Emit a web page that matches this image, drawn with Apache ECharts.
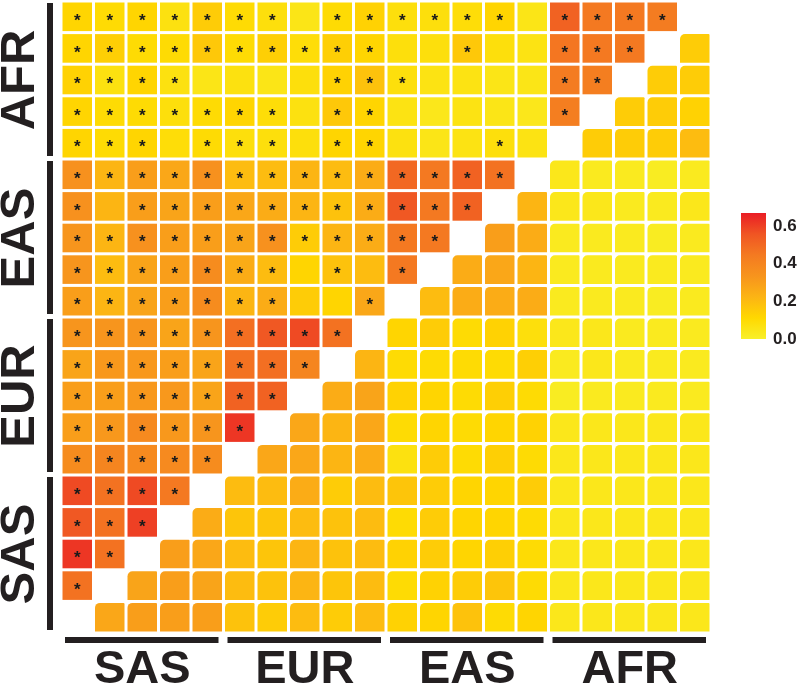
<!DOCTYPE html>
<html>
<head>
<meta charset="utf-8">
<style>html,body{margin:0;padding:0;background:#fff}#c{width:800px;height:691px}</style>
<script src="https://cdn.jsdelivr.net/npm/echarts@6/dist/echarts.min.js"></script>
</head>
<body>
<div id="c"></div>
<script>
// ---- data ----
const groups = ['SAS', 'EUR', 'EAS', 'AFR'];            // bottom->top and left->right
const cellLabels = ['SAS1','SAS2','SAS3','SAS4','SAS5','EUR1','EUR2','EUR3','EUR4','EUR5',
                    'EAS1','EAS2','EAS3','EAS4','EAS5','AFR1','AFR2','AFR3','AFR4','AFR5'];
const legendTicks = [0, 0.2, 0.4, 0.6];
const legendMax = 0.67;
// value rows, top row of the picture first; null = diagonal
const valueRows = [
 [0.12,0.10,0.12,0.07,0.15,0.10,0.08,0.05,0.10,0.13, 0.08,0.08,0.09,0.12,0.05, 0.52,0.45,0.45,0.44,null],
 [0.12,0.14,0.10,0.10,0.16,0.10,0.14,0.09,0.14,0.12, 0.08,0.08,0.16,0.08,0.06, 0.46,0.45,0.45,null,0.15],
 [0.13,0.07,0.12,0.07,0.05,0.07,0.05,0.08,0.13,0.18, 0.08,0.06,0.06,0.05,0.05, 0.44,0.43,null,0.15,0.15],
 [0.12,0.10,0.10,0.08,0.10,0.12,0.09,0.07,0.16,0.12, 0.06,0.04,0.06,0.05,0.04, 0.43,null,0.15,0.15,0.13],
 [0.12,0.10,0.12,0.09,0.10,0.08,0.08,0.08,0.12,0.12, 0.07,0.05,0.06,0.08,0.06, null,0.15,0.15,0.15,0.20],
 [0.35,0.22,0.30,0.27,0.35,0.20,0.20,0.22,0.20,0.25, 0.50,0.45,0.52,0.47,null, 0.04,0.03,0.03,0.02,0.03],
 [0.35,0.22,0.30,0.28,0.30,0.27,0.25,0.22,0.18,0.25, 0.55,0.45,0.52,null,0.22, 0.04,0.04,0.03,0.03,0.04],
 [0.33,0.22,0.35,0.30,0.30,0.28,0.35,0.15,0.22,0.25, 0.45,0.45,null,0.30,0.25, 0.03,0.03,0.03,0.02,0.03],
 [0.33,0.20,0.28,0.30,0.37,0.25,0.20,0.12,0.18,0.20, 0.45,null,0.25,0.27,0.22, 0.03,0.03,0.03,0.03,0.03],
 [0.30,0.22,0.28,0.30,0.37,0.22,0.25,0.15,0.12,0.27, null,0.20,0.25,0.25,0.25, 0.03,0.03,0.03,0.02,0.03],
 [0.33,0.33,0.33,0.28,0.33,0.48,0.55,0.58,0.47,null, 0.12,0.15,0.10,0.13,0.08, 0.04,0.04,0.03,0.03,0.03],
 [0.28,0.32,0.32,0.30,0.28,0.47,0.48,0.40,null,0.22, 0.10,0.10,0.10,0.10,0.14, 0.03,0.04,0.03,0.03,0.03],
 [0.30,0.30,0.32,0.32,0.28,0.52,0.52,null,0.25,0.28, 0.13,0.12,0.10,0.14,0.10, 0.02,0.03,0.03,0.03,0.03],
 [0.30,0.32,0.38,0.32,0.33,0.62,null,0.27,0.22,0.27, 0.10,0.12,0.10,0.12,0.13, 0.04,0.04,0.04,0.04,0.04],
 [0.37,0.40,0.38,0.38,0.37,null,0.27,0.27,0.22,0.25, 0.07,0.15,0.10,0.14,0.10, 0.04,0.04,0.04,0.04,0.04],
 [0.58,0.47,0.58,0.45,null,0.20,0.20,0.25,0.15,0.20, 0.17,0.15,0.12,0.12,0.15, 0.04,0.04,0.04,0.04,0.04],
 [0.55,0.47,0.60,null,0.25,0.17,0.17,0.20,0.18,0.20, 0.10,0.15,0.12,0.12,0.10, 0.04,0.04,0.04,0.04,0.04],
 [0.62,0.47,null,0.30,0.27,0.20,0.17,0.22,0.18,0.20, 0.13,0.15,0.12,0.14,0.10, 0.04,0.04,0.04,0.04,0.04],
 [0.47,null,0.28,0.30,0.28,0.20,0.18,0.22,0.17,0.20, 0.10,0.13,0.15,0.17,0.10, 0.04,0.04,0.04,0.04,0.04],
 [null,0.27,0.30,0.30,0.30,0.18,0.15,0.20,0.15,0.20, 0.13,0.12,0.18,0.10,0.12, 0.04,0.04,0.04,0.04,0.04]
];
// significance rows (1 = asterisk), same order as valueRows
const sigRows = [
 '1111111011111101111-',
 '111111111100100111-0',
 '11110000111000011-00',
 '1111111011000001-000',
 '111011101100010-0000',
 '11111111111111-00000',
 '1011111111111-000000',
 '111111111111-0000000',
 '11111110101-00000000',
 '1111111001-000000000',
 '111111111-0000000000',
 '11111111-00000000000',
 '1111111-000000000000',
 '111111-0000000000000',
 '11111-00000000000000',
 '1111-000000000000000',
 '111-0000000000000000',
 '11-00000000000000000',
 '1-000000000000000000',
 '-0000000000000000000'
];
const colorStops = ['#f8f02a','#ffd800','#fcb414','#f7941d','#f47a21','#f05523','#ea1d25'];

// ---- build ----
const N = cellLabels.length;
const cells = [];
valueRows.forEach((row, r) => {
  const yi = N - 1 - r;
  row.forEach((v, c) => {
    if (v === null) return;
    cells.push([c, yi, v, sigRows[r][c] === '1' ? 1 : 0, c > yi ? 1 : 0]);
  });
});
const FONT = "'Liberation Sans', Arial, Helvetica, sans-serif";
const chart = echarts.init(document.getElementById('c'), null, {renderer: 'canvas'});
const gradient = new echarts.graphic.LinearGradient(0, 1, 0, 0,
  colorStops.map((c, i) => ({offset: i / (colorStops.length - 1), color: c})));

chart.setOption({
  animation: false,
  backgroundColor: '#fff',
  grid: [
    {left: 61, right: 89, top: 1, bottom: 58, containLabel: false, outerBoundsMode: 'none'},
    {left: 741, width: 25, top: 213, height: 126, containLabel: false, outerBoundsMode: 'none'}
  ],
  xAxis: [
    {type: 'category', data: cellLabels, gridIndex: 0, show: false},
    {type: 'category', data: groups, gridIndex: 0, position: 'bottom',
     axisLine: {show: false}, axisTick: {show: false}, splitLine: {show: false},
     axisLabel: {margin: 14, fontSize: 47, fontWeight: 'bold', color: '#231f20', fontFamily: FONT}},
    {type: 'category', data: ['legend'], gridIndex: 1, show: false}
  ],
  yAxis: [
    {type: 'category', data: cellLabels, gridIndex: 0, show: false},
    {type: 'category', data: groups, gridIndex: 0, position: 'left',
     axisLine: {show: false}, axisTick: {show: false}, splitLine: {show: false},
     axisLabel: {margin: 16, rotate: 90, fontSize: 49, fontWeight: 'bold', color: '#231f20', fontFamily: FONT}},
    {type: 'value', gridIndex: 1, position: 'right', min: 0, max: legendMax,
     axisLine: {show: false}, splitLine: {show: false},
     axisTick: {show: true, inside: true, length: 4, lineStyle: {color: '#fff', width: 1}, customValues: legendTicks},
     axisLabel: {margin: 7, fontSize: 17, fontWeight: 'bold', color: '#231f20', fontFamily: FONT,
                 customValues: legendTicks, formatter: v => v.toFixed(1)}},
    {type: 'value', gridIndex: 1, position: 'left', min: 0, max: legendMax,
     axisLine: {show: false}, splitLine: {show: false},
     axisTick: {show: true, inside: true, length: 4, lineStyle: {color: '#fff', width: 1}, customValues: legendTicks},
     axisLabel: {show: false}}
  ],
  visualMap: {
    type: 'continuous', show: false, min: 0, max: legendMax, dimension: 2, seriesIndex: 0,
    inRange: {color: colorStops}
  },
  series: [
    {
      type: 'custom', xAxisIndex: 0, yAxisIndex: 0,
      encode: {x: 0, y: 1},
      data: cells,
      renderItem: function (params, api) {
        const p = api.coord([api.value(0), api.value(1)]);
        const s = api.size([1, 1]);
        const w = s[0] - 3, h = s[1] - 3;
        const children = [{
          type: 'rect',
          shape: {x: p[0] - w / 2, y: p[1] - h / 2, width: w, height: h, r: api.value(4) ? [5, 1, 0, 0] : 0},
          style: {fill: api.visual('color')}
        }];
        if (api.value(3)) {
          children.push({
            type: 'text',
            style: {text: '*', x: p[0], y: p[1] + 4.5, fill: '#1a1a1a',
                    font: 'bold 17px ' + FONT, align: 'center', verticalAlign: 'middle'}
          });
        }
        return {type: 'group', children: children};
      }
    },
    {
      type: 'custom', xAxisIndex: 0, yAxisIndex: 0, silent: true,
      data: groups.map((g, i) => [i * 5]),
      encode: {x: 0},
      renderItem: function (params, api) {
        const g0 = api.value(0);
        const s = api.size([1, 1]);
        const a = api.coord([g0, 0]);
        const b = api.coord([g0 + 4, 0]);
        const left = a[0] - s[0] / 2, right = b[0] + s[0] / 2;
        const gridBottom = a[1] + s[1] / 2;
        const ya = api.coord([0, g0])[1] + s[1] / 2;        // bottom edge of group rows
        const yb = api.coord([0, g0 + 4])[1] - s[1] / 2;    // top edge of group rows
        const gridLeft = api.coord([0, 0])[0] - s[0] / 2;
        return {type: 'group', children: [
          {type: 'rect', shape: {x: left + 4, y: gridBottom + 4, width: right - left - 9, height: 6}, style: {fill: '#231f20'}},
          {type: 'rect', shape: {x: gridLeft - 14, y: yb + 2, width: 6, height: ya - yb - 5}, style: {fill: '#231f20'}}
        ]};
      }
    },
    {
      type: 'bar', xAxisIndex: 2, yAxisIndex: 2, data: [legendMax], barWidth: 25, silent: true,
      itemStyle: {color: gradient}, z: 1
    }
  ]
});
</script>
</body>
</html>
